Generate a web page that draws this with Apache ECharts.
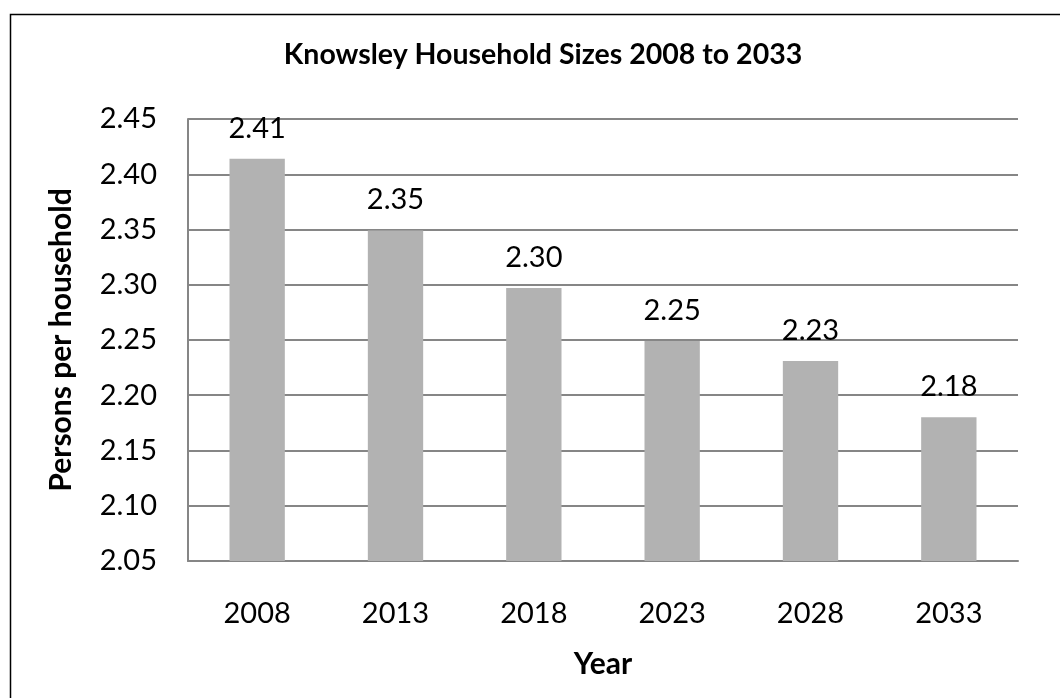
<!DOCTYPE html>
<html>
<head>
<meta charset="utf-8">
<script src="https://cdn.jsdelivr.net/npm/echarts@6/dist/echarts.min.js"></script>
<style>
html,body{margin:0;padding:0;background:#fff;}
#chart{width:1060px;height:698px;}
</style>
</head>
<body>
<div id="chart"></div>
<script>
const title = 'Knowsley Household Sizes 2008 to 2033';
const years = ['2008', '2013', '2018', '2023', '2028', '2033'];
const persons = [2.414, 2.349, 2.297, 2.249, 2.231, 2.180];
const yMin = 2.05, yMax = 2.45, yStep = 0.05;
const FONT = 'Lato';

const chart = echarts.init(document.getElementById('chart'));
chart.setOption({
  animation: false,
  backgroundColor: '#fff',
  graphic: [{
    type: 'rect', left: 8, top: 12,
    shape: {width: 1100, height: 750},
    style: {fill: 'none', stroke: '#000', lineWidth: 1.5},
    silent: true
  }],
  title: {
    text: title, left: 538, textAlign: 'center', top: 35,
    textStyle: {fontFamily: FONT, fontWeight: 'bold', fontSize: 28.5, color: '#000'}
  },
  grid: {left: 188, right: 42, top: 119, bottom: 137},
  xAxis: {
    type: 'category', data: years,
    name: 'Year', nameLocation: 'middle', nameGap: 88,
    nameTextStyle: {fontFamily: FONT, fontWeight: 'bold', fontSize: 30, color: '#000'},
    axisLine: {lineStyle: {color: '#868686', width: 2}},
    axisTick: {show: false},
    axisLabel: {fontFamily: FONT, fontSize: 29, color: '#000', margin: 38}
  },
  yAxis: {
    type: 'value', min: yMin, max: yMax, interval: yStep,
    name: 'Persons per household', nameLocation: 'middle', nameGap: 112,
    nameTextStyle: {fontFamily: FONT, fontWeight: 'bold', fontSize: 30, color: '#000'},
    axisLine: {show: true, lineStyle: {color: '#868686', width: 2}},
    axisTick: {show: false},
    splitLine: {lineStyle: {color: '#868686', width: 2}},
    axisLabel: {fontFamily: FONT, fontSize: 29, color: '#000', margin: 31,
      formatter: v => v.toFixed(2)}
  },
  series: [{
    type: 'bar', data: persons, barWidth: '40%',
    itemStyle: {color: '#b2b2b2'},
    label: {show: true, position: 'top', distance: 16,
      fontFamily: FONT, fontSize: 29, color: '#000',
      formatter: p => p.value.toFixed(2)}
  }]
});
</script>
</body>
</html>
